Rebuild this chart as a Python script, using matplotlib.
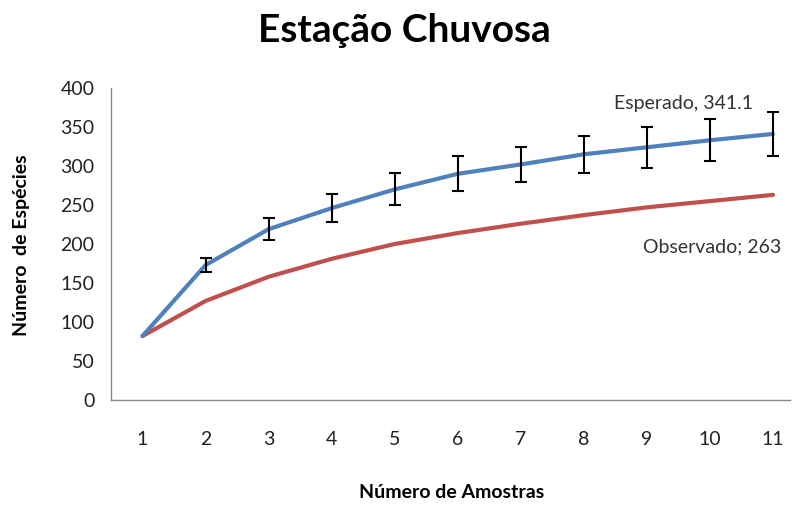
import numpy as np
import matplotlib.pyplot as plt

plt.rcParams['font.family'] = ['Lato', 'DejaVu Sans']

# sample number
amostras = [1, 2, 3, 4, 5, 6, 7, 8, 9, 10, 11]
# expected species (with error, none at first sample)
esperado = [82, 173, 219, 246, 270, 290, 302, 315, 324, 333, 341.1]
esperado_err = [np.nan, 9, 14.5, 18, 20.5, 22.5, 23, 24, 26, 27, 28]
# observed species
observado = [82, 127, 158, 181, 200, 214, 226, 237, 247, 255, 263]

fig = plt.figure(figsize=(7.92, 5.07), dpi=100)
ax = fig.add_axes([111 / 792, 107 / 507, (790 - 111) / 792, 312 / 507])

ax.plot(amostras, observado, color='#c0504d', lw=3, solid_capstyle='round')
ax.plot(amostras, esperado, color='#4f81bd', lw=3, solid_capstyle='round')
ax.errorbar(amostras[1:], esperado[1:], yerr=esperado_err[1:], fmt='none',
            ecolor='black', elinewidth=1.5, capsize=4, capthick=1.5)

ax.set_xlim(0.5, 11.27)
ax.set_ylim(0, 400)
ax.set_yticks(np.arange(0, 401, 50))
ax.set_xticks(amostras)
ax.tick_params(length=0, labelsize=14, colors='#222222', pad=12)
ax.tick_params(axis='x', pad=22)
for s in ['top', 'right']:
    ax.spines[s].set_visible(False)
for s in ['left', 'bottom']:
    ax.spines[s].set_color('#888888')
    ax.spines[s].set_linewidth(1)

ax.annotate('Esperado, 341.1', (amostras[-1], esperado[-1]), xytext=(683, 403),
            textcoords='figure pixels', ha='center', va='center', fontsize=14,
            color='#333333')
ax.annotate('Observado; 263', (amostras[-1], observado[-1]), xytext=(712, 260),
            textcoords='figure pixels', ha='center', va='center', fontsize=14,
            color='#333333')

fig.text(404 / 792, 1 - 30 / 507, 'Estação Chuvosa', ha='center', va='center',
         fontsize=28, fontweight='bold')
fig.text(452 / 792, 1 - 493 / 507, 'Número de Amostras', ha='center', va='center',
         fontsize=14, fontweight='bold')
fig.text(22 / 792, 1 - 245 / 507, 'Número  de Espécies', ha='center', va='center',
         fontsize=14, fontweight='bold', rotation=90)

fig.savefig('out.png', dpi=100)
